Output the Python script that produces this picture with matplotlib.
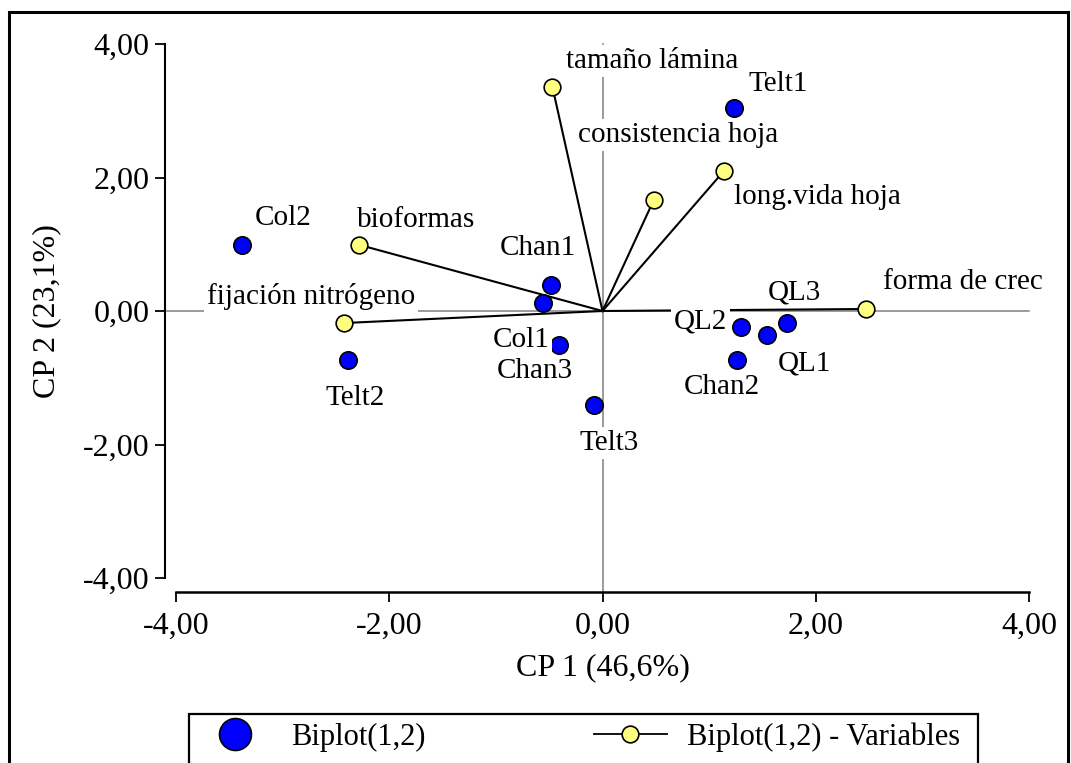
import matplotlib
matplotlib.use("Agg")
import matplotlib.pyplot as plt
from matplotlib.lines import Line2D
from matplotlib.patches import Rectangle
from matplotlib.ticker import FuncFormatter

plt.rcParams['font.family'] = ['Liberation Serif', 'DejaVu Serif']

# Observations (CP1, CP2 scores)
obs_names = ['Col2', 'Telt1', 'Chan1', 'Col1', 'Chan3', 'Telt2', 'Telt3',
             'QL2', 'QL1', 'QL3', 'Chan2']
obs_x = [-3.38, 1.23, -0.48, -0.41, -0.56, -2.39, -0.08, 1.30, 1.54, 1.73, 1.26]
obs_y = [0.99, 3.04, 0.39, -0.51, 0.12, -0.73, -1.41, -0.24, -0.36, -0.18, -0.73]

# Variables (loadings)
var_names = ['tamaño lámina', 'consistencia hoja', 'long.vida hoja', 'bioformas',
             'fijación nitrógeno', 'forma de crec']
var_x = [-0.47, 0.48, 1.14, -2.28, -2.42, 2.47]
var_y = [3.36, 1.66, 2.10, 0.99, -0.18, 0.03]

# label anchors (left edge, vertical centre)
obs_lab_x = [-3.26, 1.37, -0.96, -1.03, -0.99, -2.60, -0.22, 0.67, 1.64, 1.55, 0.76]
obs_lab_y = [1.39, 3.40, 0.94, -0.43, -0.90, -1.30, -1.98, -0.16, -0.78, 0.28, -1.14]
var_lab_x = [-0.34, -0.23, 1.23, -2.30, -3.71, 2.63]
var_lab_y = [3.75, 2.64, 1.71, 1.36, 0.21, 0.43]

fig = plt.figure(figsize=(10.71, 7.63), dpi=100)
ax = fig.add_axes([176/1071, 185/763, 853/1071, 534/763])

# zero reference lines
ax.axhline(0, xmin=-11/853, xmax=1, color='#808080', lw=1.1, clip_on=False, zorder=1)
ax.axvline(0, ymin=-14/534, ymax=1, color='#808080', lw=1.1, clip_on=False, zorder=1)

# variable vectors
for vx, vy in zip(var_x, var_y):
    ax.plot([0, vx], [0, vy], color='black', lw=1.5, zorder=2)
ax.plot(var_x, var_y, 'o', ms=12, mfc='#ffff80', mec='black', mew=1.2,
        zorder=3, clip_on=False)
ax.plot(obs_x, obs_y, 'o', ms=12.5, mfc='#0000ff', mec='black', mew=1.2,
        zorder=3, clip_on=False)

box = dict(boxstyle='square,pad=0.1', fc='white', ec='none')
for name, lx, ly in zip(obs_names + var_names, obs_lab_x + var_lab_x,
                        obs_lab_y + var_lab_y):
    ax.text(lx, ly, name, fontsize=21, ha='left', va='center', bbox=box, zorder=4)

ax.set_xlim(-4, 4)
ax.set_ylim(-4, 4)
ax.set_xticks([-4, -2, 0, 2, 4])
ax.set_yticks([-4, -2, 0, 2, 4])
fmt = FuncFormatter(lambda v, p: ('%.2f' % v).replace('.', ','))
ax.xaxis.set_major_formatter(fmt)
ax.yaxis.set_major_formatter(fmt)
for s in ['top', 'right']:
    ax.spines[s].set_visible(False)
ax.spines['left'].set_position(('outward', 8))
ax.spines['bottom'].set_position(('outward', 10))
ax.spines['left'].set_linewidth(1.5)
ax.spines['bottom'].set_linewidth(1.8)
ax.tick_params(direction='out', length=7, width=1.3, labelsize=23, pad=4)
ax.tick_params(axis='x', pad=7)
ax.set_xlabel('CP 1 (46,6%)', fontsize=23, labelpad=9)
ax.set_ylabel('CP 2 (23,1%)', fontsize=23, labelpad=16)

# legend with a frame running off the bottom edge
fig.add_artist(Rectangle((189/1071, -0.1), 789/1071, 0.1 + 49/763,
                         transform=fig.transFigure, fill=False, ec='black', lw=1.6))
handles = [Line2D([], [], ls='none', marker='o', ms=23, mfc='#0000ff', mec='black', mew=1.2),
           Line2D([], [], color='black', lw=1.3, marker='o', ms=12, mfc='#ffff80',
                  mec='black', mew=1.2)]
fig.legend(handles, ['Biplot(1,2)', 'Biplot(1,2) - Variables'], ncol=2, frameon=False,
           loc='center left', bbox_to_anchor=(198/1071, 26/763), fontsize=22,
           borderaxespad=0, borderpad=0, handlelength=2.4, handletextpad=0.65,
           columnspacing=5.5)

# outer border
fig.add_artist(Rectangle((9/1071, -0.1), 1059/1071, 0.1 + 751/763,
                         transform=fig.transFigure, fill=False, ec='black', lw=2.2))

fig.savefig('out.png', dpi=100)
